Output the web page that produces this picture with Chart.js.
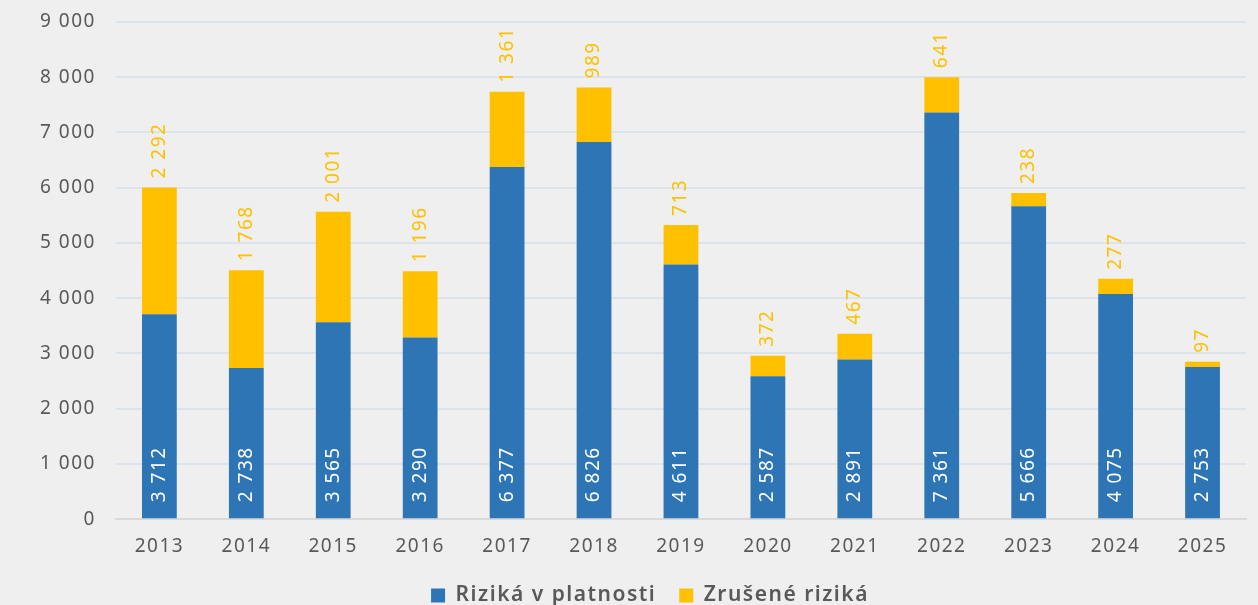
<!DOCTYPE html>
<html><head><meta charset="utf-8">
<script src="https://cdn.jsdelivr.net/npm/chart.js@4/dist/chart.umd.min.js"></script>
<style>html,body{margin:0;padding:0;background:#efefef;}#wrap{width:1258px;height:605px;}</style>
</head><body><div id="wrap"><canvas id="c" width="1258" height="605"></canvas></div>
<script>
const categories = ["2013","2014","2015","2016","2017","2018","2019","2020","2021","2022","2023","2024","2025"];
const rizikaVPlatnosti = [3712,2738,3565,3290,6377,6826,4611,2587,2891,7361,5666,4075,2753];
const zruseneRiziky = [2292,1768,2001,1196,1361,989,713,372,467,641,238,277,97];
const seriesNames = ["Riziká v platnosti","Zrušené riziká"];

const fmt = v => String(v).replace(/\B(?=(\d{3})+(?!\d))/g, " ");
const FONT = "'Noto Sans', sans-serif";
const LS = '1.5px';

const spacingPlugin = {
  id: 'spacing',
  beforeInit(chart) { chart.ctx.letterSpacing = LS; },
  beforeUpdate(chart) { chart.ctx.letterSpacing = LS; },
  afterLayout(chart) { if (chart.legend) { chart.legend.left += 17; chart.legend.right += 17; } },
  beforeDraw(chart) { chart.ctx.letterSpacing = LS; }
};

const labelPlugin = {
  id: 'barLabels',
  afterDatasetsDraw(chart) {
    const ctx = chart.ctx;
    const base = chart.scales.y.getPixelForValue(0);
    ctx.save();
    ctx.letterSpacing = LS;
    ctx.font = "19px " + FONT;
    ctx.textAlign = 'left';
    ctx.textBaseline = 'middle';
    chart.getDatasetMeta(0).data.forEach((bar, i) => {
      ctx.save();
      ctx.translate(bar.x, base - 17);
      ctx.rotate(-Math.PI / 2);
      ctx.fillStyle = '#ffffff';
      ctx.fillText(fmt(rizikaVPlatnosti[i]), 0, 0);
      ctx.restore();
    });
    chart.getDatasetMeta(1).data.forEach((bar, i) => {
      ctx.save();
      ctx.translate(bar.x, bar.y - 9);
      ctx.rotate(-Math.PI / 2);
      ctx.fillStyle = '#FFC000';
      ctx.fillText(fmt(zruseneRiziky[i]), 0, 0);
      ctx.restore();
    });
    ctx.restore();
  }
};

new Chart(document.getElementById('c'), {
  type: 'bar',
  data: {
    labels: categories,
    datasets: [
      { label: seriesNames[0], data: rizikaVPlatnosti, backgroundColor: '#2E75B6', barPercentage: 0.4, categoryPercentage: 1 },
      { label: seriesNames[1], data: zruseneRiziky, backgroundColor: '#FFC000', barPercentage: 0.4, categoryPercentage: 1 }
    ]
  },
  options: {
    responsive: false,
    animation: false,
    layout: { padding: { top: 0, right: 12, left: 20, bottom: -11 } },
    plugins: {
      legend: {
        position: 'bottom',
        labels: { boxWidth: 14, boxHeight: 14, padding: 23, color: '#595959', font: { family: FONT, size: 21, weight: '600' } }
      },
      tooltip: { enabled: false }
    },
    scales: {
      x: {
        stacked: true,
        afterFit(s) { s.height -= 12; },
        grid: { display: false, drawTicks: false },
        border: { color: '#d9d9d9', width: 2 },
        ticks: { color: '#595959', font: { family: FONT, size: 19 }, padding: 16 }
      },
      y: {
        stacked: true,
        min: 0, max: 9000,
        afterFit(s) { s.paddingTop = 22; s.paddingBottom = 0; },
        ticks: { stepSize: 1000, color: '#595959', font: { family: FONT, size: 19 }, padding: 20, callback: v => fmt(v) },
        grid: { color: '#dde3ea', lineWidth: 2, drawTicks: false },
        border: { display: false }
      }
    }
  },
  plugins: [spacingPlugin, labelPlugin]
});
</script></body></html>
